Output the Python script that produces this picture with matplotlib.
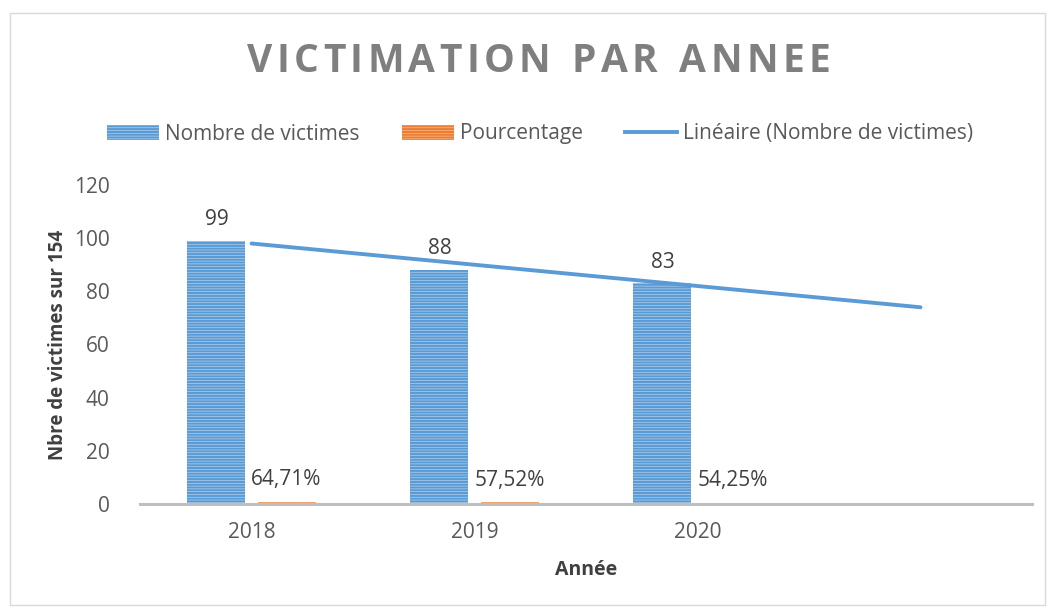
import matplotlib
matplotlib.use("Agg")
import matplotlib.pyplot as plt
import numpy as np
from matplotlib.patches import Patch, Rectangle
from matplotlib.lines import Line2D

plt.rcParams['font.family'] = ['Open Sans', 'DejaVu Sans']
plt.rcParams['hatch.linewidth'] = 1.6

years = ["2018", "2019", "2020"]
victims = [99, 88, 83]
percent = [0.6471, 0.5752, 0.5425]
percent_labels = ["64,71%", "57,52%", "54,25%"]
yticks = [0, 20, 40, 60, 80, 100, 120]
title = 'VICTIMATION PAR ANNEE'

blue = '#5B9BD5'
orange = '#ED7D31'
gray_txt = '#595959'

W, H = 1051, 609
fig = plt.figure(figsize=(W/100, H/100), dpi=100)
fig.patches.append(Rectangle((10/W, 4/H), 1035/W, 592/H, transform=fig.transFigure,
                             fill=False, edgecolor='#D9D9D9', linewidth=1))
ax = fig.add_axes([140/W, 1-504/H, 892/W, 319/H])

x = np.arange(len(years))
w = 0.26
off = 0.157
ax.bar(x - off, victims, w, facecolor='#C9DDF2', edgecolor=blue, hatch='------', linewidth=0)
ax.bar(x + off, percent, w, facecolor='#F8CBAD', edgecolor=orange, hatch='------', linewidth=0)

for xi, v in zip(x, victims):
    ax.text(xi - off, v + 4, str(v), ha='center', va='bottom', fontsize=15, color='#404040')
for xi, p, lab in zip(x, percent, percent_labels):
    ax.text(xi + off, p + 4.5, lab, ha='center', va='bottom', fontsize=15, color='#404040')

# linear trendline with one forward period
coef = np.polyfit(x, victims, 1)
xt = np.array([0, len(years)])
ax.plot(xt, np.polyval(coef, xt), color=blue, linewidth=2.8, solid_capstyle='round')

ax.set_xlim(-0.5, 3.5)
ax.set_ylim(0, 120)
ax.set_xticks(x)
ax.set_xticklabels(years)
ax.set_yticks(yticks)
ax.tick_params(axis='both', length=0, labelsize=15, colors=gray_txt)
ax.tick_params(axis='x', pad=13)
ax.tick_params(axis='y', pad=22)
for s in ['top', 'right', 'left']:
    ax.spines[s].set_visible(False)
ax.spines['bottom'].set_color('#BFBFBF')
ax.spines['bottom'].set_linewidth(2.2)

ax.set_ylabel('Nbre de victimes sur 154', fontsize=13.5, fontweight='bold', color='#404040', labelpad=4)
ax.set_xlabel('Année', fontsize=14, fontweight='bold', color='#404040', labelpad=12)

# letter-spaced title
fig.canvas.draw()
renderer = fig.canvas.get_renderer()
title_kw = dict(fontsize=28, fontweight='bold', color='#7F7F7F', va='center', ha='left')
left_px, right_px = 247, 830
widths = []
for ch in title:
    if ch == ' ':
        t = fig.text(0, 0, 'I', **title_kw)
    else:
        t = fig.text(0, 0, ch, **title_kw)
    wdt = t.get_window_extent(renderer).width
    t.remove()
    widths.append(wdt)
gap = (right_px - left_px - sum(widths)) / (len(title) - 1)
cur = left_px
for ch, wdt in zip(title, widths):
    if ch != ' ':
        fig.text(cur / W, 1 - 62 / H, ch, **title_kw)
    cur += wdt + gap

handles = [Patch(facecolor='#C9DDF2', edgecolor=blue, hatch='------', linewidth=0),
           Patch(facecolor='#F8CBAD', edgecolor=orange, hatch='------', linewidth=0),
           Line2D([0], [0], color=blue, linewidth=2.8)]
labels = ['Nombre de victimes', 'Pourcentage', 'Linéaire (Nombre de victimes)']
leg = fig.legend(handles, labels, loc='center', bbox_to_anchor=(540/W, 1-134/H), ncol=3,
                 frameon=False, fontsize=15, handlelength=2.5, handletextpad=0.3,
                 columnspacing=2.0, borderaxespad=0, borderpad=0)
for t in leg.get_texts():
    t.set_color(gray_txt)

fig.savefig('out.png', dpi=100)
